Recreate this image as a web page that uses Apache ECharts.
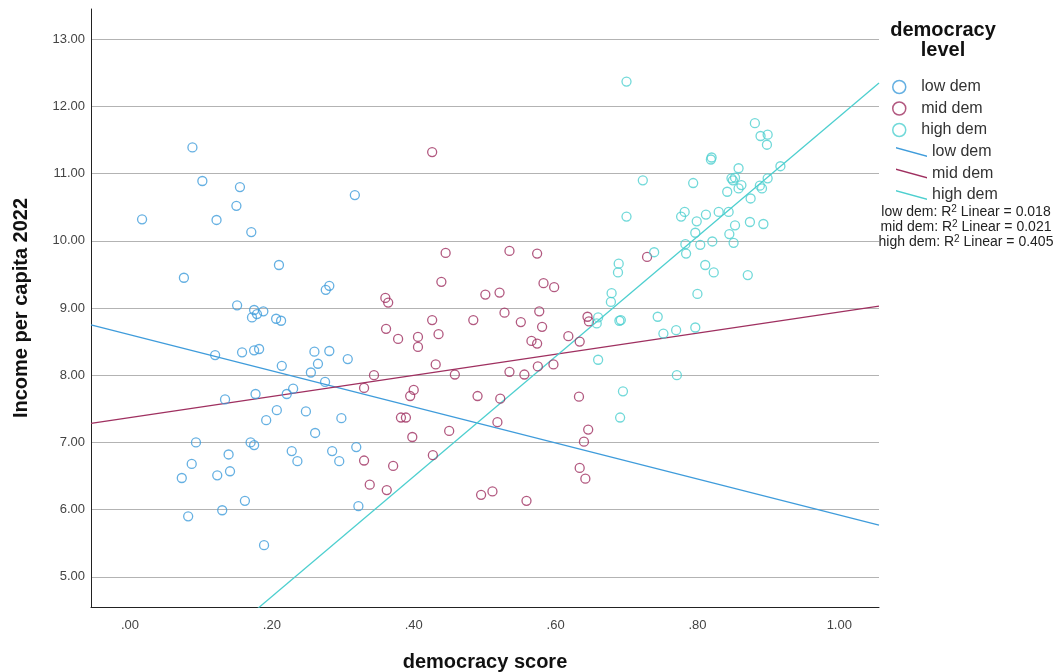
<!DOCTYPE html>
<html>
<head>
<meta charset="utf-8">
<script src="https://cdn.jsdelivr.net/npm/echarts@6/dist/echarts.min.js"></script>
<style>
  html, body { margin: 0; padding: 0; background: #fff; }
  #chart { width: 1054px; height: 672px; }
</style>
</head>
<body>
<div id="chart"></div>
<script>
// Democracy score vs. income per capita (2022), grouped by democracy level
const groupNames = ['low dem', 'mid dem', 'high dem'];
const groupColors = ['#3f9cdb', '#9f3060', '#4dcfcf'];

const lowX = [0.088, 0.102, 0.155, 0.150, 0.017, 0.122, 0.171, 0.317, 0.210, 0.076,
  0.281, 0.276, 0.151, 0.175, 0.188, 0.179, 0.172, 0.206, 0.213, 0.120,
  0.158, 0.175, 0.182, 0.260, 0.281, 0.307, 0.214, 0.265, 0.255, 0.275,
  0.134, 0.177, 0.221, 0.230, 0.207, 0.192, 0.248, 0.298, 0.261, 0.093,
  0.170, 0.175, 0.139, 0.087, 0.141, 0.123, 0.073, 0.228, 0.236, 0.285,
  0.295, 0.319, 0.162, 0.082, 0.130, 0.322, 0.189];
const lowY = [11.39, 10.89, 10.80, 10.52, 10.32, 10.31, 10.13, 10.68, 9.64, 9.45,
  9.33, 9.27, 9.04, 8.97, 8.95, 8.91, 8.86, 8.84, 8.81, 8.30,
  8.34, 8.37, 8.39, 8.35, 8.36, 8.24, 8.14, 8.17, 8.04, 7.90,
  7.64, 7.72, 7.72, 7.80, 7.48, 7.33, 7.46, 7.36, 7.14, 7.00,
  7.00, 6.96, 6.82, 6.68, 6.57, 6.51, 6.47, 6.87, 6.72, 6.87,
  6.72, 6.93, 6.13, 5.90, 5.99, 6.05, 5.47];

const midX = [0.360, 0.364, 0.361, 0.344, 0.330, 0.330, 0.338, 0.362, 0.426, 0.445,
  0.535, 0.574, 0.729, 0.439, 0.501, 0.521, 0.583, 0.598, 0.528, 0.577,
  0.426, 0.484, 0.551, 0.581, 0.378, 0.406, 0.406, 0.435, 0.566, 0.574,
  0.618, 0.634, 0.645, 0.647, 0.431, 0.597, 0.575, 0.458, 0.535, 0.556,
  0.400, 0.395, 0.490, 0.522, 0.633, 0.382, 0.389, 0.518, 0.450, 0.398,
  0.646, 0.640, 0.427, 0.371, 0.634, 0.642, 0.495, 0.511, 0.559];
const midY = [9.15, 9.08, 8.69, 8.00, 7.81, 6.73, 6.37, 6.29, 11.32, 9.82,
  9.85, 9.81, 9.76, 9.39, 9.20, 9.23, 9.37, 9.31, 8.93, 8.95,
  8.82, 8.82, 8.79, 8.72, 8.54, 8.57, 8.42, 8.61, 8.51, 8.47,
  8.58, 8.50, 8.87, 8.80, 8.16, 8.16, 8.13, 8.01, 8.05, 8.01,
  7.78, 7.69, 7.69, 7.65, 7.68, 7.37, 7.37, 7.30, 7.17, 7.08,
  7.19, 7.01, 6.81, 6.65, 6.62, 6.46, 6.22, 6.27, 6.13];

const highX = [0.723, 0.700, 0.689, 0.688, 0.679, 0.678, 0.690, 0.692, 0.660, 0.658,
  0.660, 0.695, 0.691, 0.700, 0.881, 0.889, 0.899, 0.898, 0.820, 0.819,
  0.917, 0.858, 0.848, 0.853, 0.850, 0.862, 0.858, 0.794, 0.842, 0.899,
  0.888, 0.891, 0.875, 0.782, 0.777, 0.812, 0.830, 0.844, 0.799, 0.874,
  0.893, 0.853, 0.797, 0.845, 0.851, 0.821, 0.804, 0.783, 0.784, 0.739,
  0.811, 0.823, 0.871, 0.800, 0.744, 0.752, 0.770, 0.797, 0.771];
const highY = [10.90, 10.36, 9.66, 9.53, 9.22, 9.09, 8.81, 8.82, 8.86, 8.77,
  8.23, 7.76, 7.37, 12.37, 11.75, 11.56, 11.58, 11.43, 11.24, 11.21,
  11.11, 11.08, 10.93, 10.94, 10.90, 10.83, 10.78, 10.86, 10.73, 10.93,
  10.82, 10.78, 10.63, 10.43, 10.36, 10.39, 10.43, 10.43, 10.29, 10.28,
  10.25, 10.23, 10.12, 10.10, 9.97, 9.99, 9.94, 9.95, 9.81, 9.83,
  9.64, 9.53, 9.49, 9.21, 8.87, 8.62, 8.67, 8.71, 8.00];

// Linear fit per group: income = intercept + slope * score
const fitIntercept = [8.60, 7.37, 2.92];
const fitSlope = [-2.68, 1.57, 8.93];
const rSquared = ['0.018', '0.021', '0.405'];

const xTicks = [0, 0.2, 0.4, 0.6, 0.8, 1.0];
const yTicks = [5, 6, 7, 8, 9, 10, 11, 12, 13];
const xRange = [-0.055, 1.056];
const yRange = [4.55, 13.45];

const groupX = [lowX, midX, highX];
const groupY = [lowY, midY, highY];

const scatterSeries = groupNames.map((name, i) => ({
  name: name,
  type: 'scatter',
  symbol: 'circle',
  symbolSize: 9,
  itemStyle: { color: 'rgba(0,0,0,0)', borderColor: groupColors[i], borderWidth: 1.3 },
  emphasis: { disabled: true },
  data: groupX[i].map((x, k) => [x, groupY[i][k]]),
  z: 3
}));

const fitSeries = groupNames.map((name, i) => ({
  name: name + ' fit',
  type: 'line',
  showSymbol: false,
  clip: true,
  lineStyle: { color: groupColors[i], width: 1.3 },
  itemStyle: { color: groupColors[i] },
  emphasis: { disabled: true },
  data: xRange.map(x => [x, fitIntercept[i] + fitSlope[i] * x]),
  z: 2
}));

const fmtX = v => {
  const s = v.toFixed(2);
  return s.startsWith('0') ? s.slice(1) : s;
};

const chart = echarts.init(document.getElementById('chart'), null, { renderer: 'canvas' });
const font = '"Liberation Sans", Arial, sans-serif';

chart.setOption({
  animation: false,
  backgroundColor: '#ffffff',
  textStyle: { fontFamily: font },
  grid: { left: 91, right: 175, top: 9, bottom: 65, containLabel: false, outerBoundsMode: 'none' },
  xAxis: {
    type: 'value',
    min: xRange[0],
    max: xRange[1],
    name: 'democracy score',
    nameLocation: 'middle',
    nameGap: 45,
    nameTextStyle: { fontFamily: font, fontSize: 20, fontWeight: 'bold', color: '#111' },
    axisLine: { show: true, onZero: false, lineStyle: { color: '#222', width: 1 } },
    axisTick: { show: false, customValues: xTicks },
    axisLabel: {
      customValues: xTicks,
      formatter: fmtX,
      margin: 12,
      fontFamily: font,
      fontSize: 13,
      color: '#444'
    },
    splitLine: { show: false }
  },
  yAxis: {
    type: 'value',
    min: yRange[0],
    max: yRange[1],
    name: 'Income per capita 2022',
    nameLocation: 'middle',
    nameGap: 60,
    nameTextStyle: { fontFamily: font, fontSize: 20, fontWeight: 'bold', color: '#111' },
    axisLine: { show: true, onZero: false, lineStyle: { color: '#222', width: 1 } },
    axisTick: { show: false, customValues: yTicks },
    axisLabel: {
      customValues: yTicks,
      formatter: v => v.toFixed(2),
      margin: 6,
      fontFamily: font,
      fontSize: 13,
      color: '#444'
    },
    splitLine: { show: true, lineStyle: { color: '#b3b3b3', width: 1 } }
  },
  legend: [
    {
      orient: 'vertical',
      left: 887,
      top: 73,
      itemWidth: 34,
      itemHeight: 13,
      itemGap: 3.5,
      selectedMode: false,
      textStyle: { fontFamily: font, fontSize: 16, color: '#333', lineHeight: 18 },
      data: groupNames.map((n, i) => ({
        name: n,
        icon: 'circle',
        itemStyle: { color: 'rgba(0,0,0,0)', borderColor: groupColors[i], borderWidth: 1.5 }
      }))
    },
    {
      orient: 'vertical',
      left: 891,
      top: 138,
      itemWidth: 31,
      itemHeight: 10,
      itemGap: 3.5,
      selectedMode: false,
      formatter: n => n.replace(' fit', ''),
      textStyle: { fontFamily: font, fontSize: 16, color: '#333', lineHeight: 18 },
      data: groupNames.map((n, i) => ({
        name: n + ' fit',
        icon: 'path://M0,0L31,8.4L31,10L0,1.6Z',
        itemStyle: { color: groupColors[i] }
      }))
    }
  ],
  graphic: [
    {
      type: 'text',
      x: 943,
      y: 20,
      style: {
        text: 'democracy\nlevel',
        textAlign: 'center',
        fontFamily: font,
        fontSize: 20,
        fontWeight: 'bold',
        lineHeight: 20,
        fill: '#111'
      }
    }
  ].concat(groupNames.map((n, i) => ({
    type: 'text',
    x: 966,
    y: 204 + i * 15,
    style: {
      text: '{a|' + n + ': R}{s|2}{a| Linear = ' + rSquared[i] + '}',
      textAlign: 'center',
      fontFamily: font,
      rich: {
        a: { fontFamily: font, fontSize: 14, lineHeight: 15, fill: '#222', verticalAlign: 'bottom' },
        s: { fontFamily: font, fontSize: 10, lineHeight: 15, fill: '#222', verticalAlign: 'top' }
      }
    }
  }))),
  series: fitSeries.concat(scatterSeries)
});
</script>
</body>
</html>
